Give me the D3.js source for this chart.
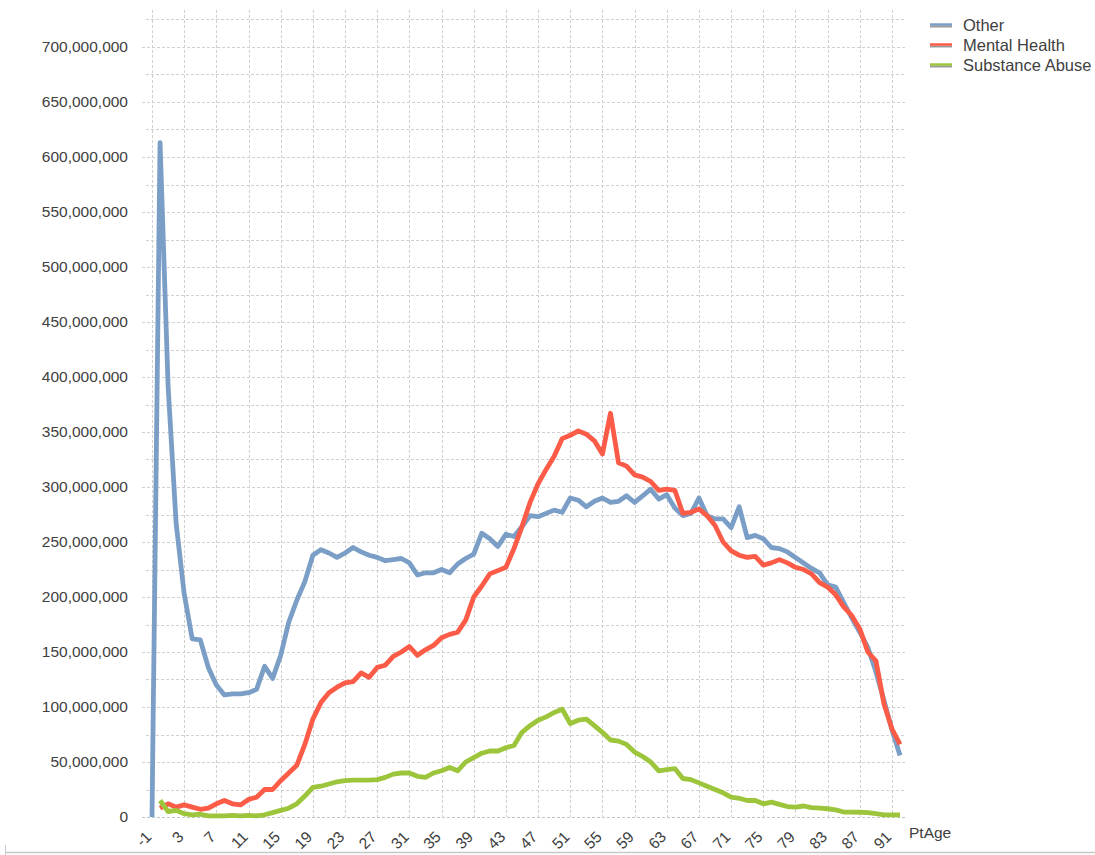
<!DOCTYPE html>
<html>
<head>
<meta charset="utf-8">
<script src="https://cdn.jsdelivr.net/npm/d3@7"></script>
<style>
  html, body { margin: 0; padding: 0; background: #fff; }
  svg { display: block; font-family: "Liberation Sans", Arial, sans-serif; }
</style>
</head>
<body>
<svg id="chart" width="1095" height="855"></svg>
<script>
// ---- data (values in millions) ----
const ages = [-1,0,1,2,3,4,5,6,7,8,9,10,11,12,13,14,15,16,17,18,19,20,21,22,23,24,25,26,27,28,29,30,
  31,32,33,34,35,36,37,38,39,40,41,42,43,44,45,46,47,48,49,50,51,52,53,54,55,56,57,58,59,60,
  61,62,63,64,65,66,67,68,69,70,71,72,73,74,75,76,77,78,79,80,81,82,83,84,85,86,87,88,89,90,91,92];

const other = [0,613,392,267,203,162,161,136,120,111,112,112,113,116,137,126,147,177,197,214,238,243,
  240,236,240,245,241,238,236,233,234,235,231,220,222,222,225,222,230,235,239,258,253,246,257,255,
  264,274,273,276,279,277,290,288,282,287,290,286,287,292,286,292,298,289,293,281,274,276,290,274,
  271,271,263,282,254,256,253,245,244,241,236,231,226,222,211,209,195,181,168,154,132,106,79,56];

const mentalHealth = [null,8,12,9,11,9,7,8,12,15,12,11,16,18,25,25,33,40,47,66,89,104,113,118,122,123,
  131,127,136,138,146,150,155,147,152,156,163,166,168,179,200,210,221,224,227,244,264,286,303,316,
  328,344,347,351,348,342,330,367,322,319,311,309,305,297,298,297,276,277,280,274,265,250,242,238,
  236,237,229,231,234,231,227,225,221,213,209,202,191,183,171,150,142,103,80,66];

const substanceAbuse = [null,15,5,6,3,2,2.5,1,1,1,1.5,1,1.5,1,2,4,6,8,12,19,27,28,30,32,33,33.5,33.5,
  33.5,34,36,39,40,40,37,36,40,42,45,42,50,54,58,60,60,63,65,77,83,88,91,95,98,85,88,89,83,77,70,
  69,66,59,55,50,42,43,44,35,34,31,28,25,22,18,17,15,15,12,13.5,11.5,9.5,9,10,8.5,8,7.5,6.5,4.5,
  4.5,4.3,4,3,2,2,2];

const seriesNames = ["Other", "Mental Health", "Substance Abuse"];
const seriesColors = ["#7b9ec6", "#fb5b47", "#9dc53b"];
const xTicks = [-1,3,7,11,15,19,23,27,31,35,39,43,47,51,55,59,63,67,71,75,79,83,87,91];
const yTicks = [0,50,100,150,200,250,300,350,400,450,500,550,600,650,700];
const yMinorTicks = [25,75,125,175,225,275,325,375,425,475,525,575,625,675,725];
const xTitle = "PtAge";

// ---- layout ----
const svg = d3.select("#chart");
const x = d3.scaleLinear().domain([-1, 91]).range([152, 892]);
const y = d3.scaleLinear().domain([0, 700]).range([817, 47]);
const plotTop = 10, plotRight = 905;
const gridColor = "#d0d0d0";
const fmt = d3.format(",");
const textColor = "#404040";

// horizontal grid (minor)
svg.append("g").selectAll("line").data(yMinorTicks).join("line")
  .attr("x1", 146).attr("x2", plotRight)
  .attr("y1", d => Math.round(y(d)) + 0.5).attr("y2", d => Math.round(y(d)) + 0.5)
  .attr("stroke", gridColor).attr("stroke-dasharray", "3,2");

// vertical grid
svg.append("g").selectAll("line").data(xTicks).join("line")
  .attr("x1", d => Math.round(x(d)) + 0.5).attr("x2", d => Math.round(x(d)) + 0.5)
  .attr("y1", plotTop).attr("y2", y(0))
  .attr("stroke", gridColor).attr("stroke-dasharray", "3,2");

// y axis
const yAxis = d3.axisLeft(y).tickValues(yTicks).tickSize(0).tickPadding(0)
  .tickFormat(d => fmt(d * 1e6));
const gy = svg.append("g").attr("transform", "translate(128,0)").call(yAxis);
gy.select(".domain").remove();
gy.selectAll("text").attr("font-size", 15.5).attr("fill", textColor)
  .attr("font-family", "'Liberation Sans', Arial, sans-serif");
// major horizontal grid
svg.append("g").selectAll("line").data(yTicks).join("line")
  .attr("x1", 142).attr("x2", plotRight)
  .attr("y1", d => Math.round(y(d)) + 0.5).attr("y2", d => Math.round(y(d)) + 0.5)
  .attr("stroke", d => d === 0 ? "#c4c4c4" : gridColor).attr("stroke-dasharray", "3,2");

// x axis labels
const xAxis = d3.axisBottom(x).tickValues(xTicks).tickSize(0).tickPadding(0)
  .tickFormat(d => String(d));
const gx = svg.append("g").attr("transform", "translate(0,817)").call(xAxis);
gx.select(".domain").remove();
gx.selectAll("text")
  .attr("font-size", 15.5).attr("fill", textColor)
  .attr("font-family", "'Liberation Sans', Arial, sans-serif")
  .attr("text-anchor", "end")
  .attr("dy", "0.35em")
  .attr("transform", "translate(-4,17) rotate(-45)");

svg.append("text").attr("x", 909).attr("y", 838).text(xTitle)
  .attr("font-size", 15.5).attr("fill", textColor);

// lines
const values = [other, mentalHealth, substanceAbuse];
const line = d3.line()
  .defined(d => d.v !== null)
  .x(d => x(d.a)).y(d => y(d.v));
values.forEach((vals, i) => {
  const pts = ages.map((a, j) => ({a: a, v: vals[j]}));
  svg.append("path").datum(pts)
    .attr("fill", "none")
    .attr("stroke", seriesColors[i])
    .attr("stroke-width", 4.8)
    .attr("stroke-linejoin", "round")
    .attr("stroke-linecap", "butt")
    .attr("d", line);
});

// legend
const lg = svg.append("g");
seriesNames.forEach((name, i) => {
  const cy = 25 + i * 20;
  lg.append("line").attr("x1", 930).attr("x2", 952).attr("y1", cy + 1.5).attr("y2", cy + 1.5)
    .attr("stroke", "#9a9a9a").attr("stroke-width", 2);
  lg.append("line").attr("x1", 930).attr("x2", 952).attr("y1", cy - 0.5).attr("y2", cy - 0.5)
    .attr("stroke", seriesColors[i]).attr("stroke-width", 2.5);
  lg.append("text").attr("x", 963).attr("y", cy).attr("dy", "0.35em")
    .attr("font-size", 16.5).attr("fill", textColor).text(name);
});

// bottom frame line
svg.append("line").attr("x1", 5).attr("x2", 1095).attr("y1", 852.5).attr("y2", 852.5)
  .attr("stroke", "#c8c8c8").attr("stroke-width", 1.5);
svg.append("line").attr("x1", 5.5).attr("x2", 5.5).attr("y1", 845).attr("y2", 855)
  .attr("stroke", "#c8c8c8");
</script>
</body>
</html>
